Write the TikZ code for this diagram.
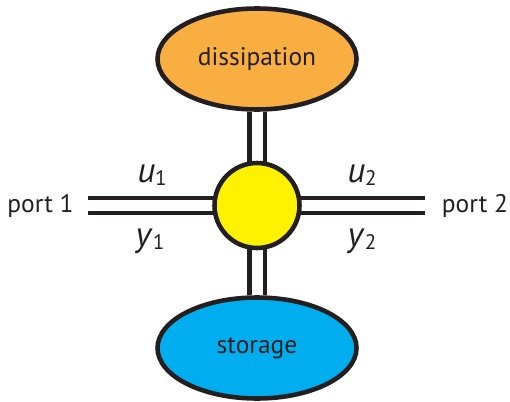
\documentclass[tikz,border=0pt]{standalone}
\usepackage{fontspec}
\setmainfont{PT Sans}
\usetikzlibrary{shapes.geometric}
\definecolor{orangefill}{HTML}{F9AE42}
\definecolor{bluefill}{HTML}{00AEEF}
\definecolor{yellowfill}{HTML}{FFF200}
\definecolor{inkgray}{HTML}{231F20}
\newcommand{\subidx}[1]{\raisebox{-0.2ex}{\fontsize{12}{13}\selectfont #1}}
\begin{document}
\begin{tikzpicture}[
        blob/.style={ellipse, draw=inkgray, line width=2.6pt, minimum width=3.98cm, minimum height=2.02cm},
        hubnode/.style={circle, draw=inkgray, line width=2.6pt, minimum size=1.7cm, fill=yellowfill},
        wire/.style={draw=inkgray, line width=2.3pt, double=white, double distance=0.22cm},
        var/.style={font=\fontsize{20}{22}\selectfont},
        font=\fontsize{14.5}{16}\selectfont, text=inkgray
    ]
    \useasboundingbox (0,0) rectangle (10.2,8.02);

    % Elementos
    \node[blob, fill=orangefill] (diss) at (5.14,6.84) {dissipation};
    \node[blob, fill=bluefill] (stor) at (5.14,1.06) {storage};
    \coordinate (p1) at (1.76,3.91);
    \coordinate (p2) at (8.5,3.91);

    % Ligações
    \draw[wire] (p1) -- (5.14,3.91) -- (p2);
    \draw[wire] (diss) -- (stor);
    \node[hubnode] (hub) at (5.14,3.91) {};

    % Portas
    \node at (0.81,3.9) {port 1};
    \node at (9.5,3.9) {port 2};

    % Variáveis
    \node[var] at (3.04,4.52) {\textit{u}\subidx{1}};
    \node[var] at (3.0,3.2) {\textit{y}\subidx{1}};
    \node[var] at (7.24,4.52) {\textit{u}\subidx{2}};
    \node[var] at (7.24,3.2) {\textit{y}\subidx{2}};

\end{tikzpicture}
\end{document}
